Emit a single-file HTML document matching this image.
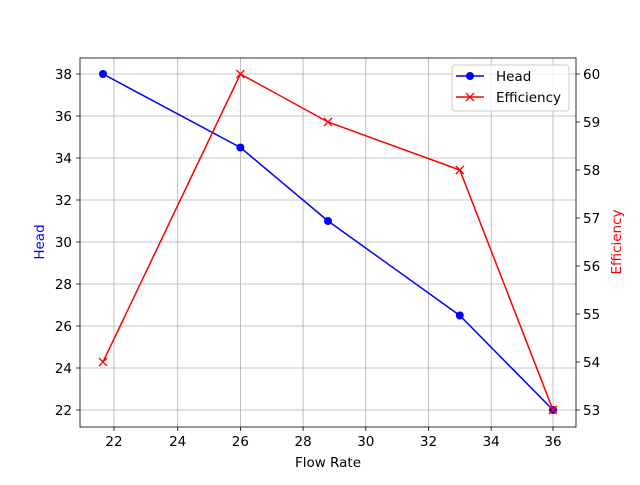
<!DOCTYPE html>
<html><head><meta charset="utf-8"><style>body{margin:0;background:#fff}</style></head><body>
<svg width="640" height="480" viewBox="0 0 640 480" xmlns="http://www.w3.org/2000/svg" font-family="DejaVu Sans, Liberation Sans, sans-serif" font-size="13.5">
<rect width="640" height="480" fill="#fff"/>
<g stroke="#b0b0b0" stroke-width="0.8">
<line x1="114" y1="58" x2="114" y2="427"/><line x1="177.7" y1="58" x2="177.7" y2="427"/>
<line x1="240.4" y1="58" x2="240.4" y2="427"/><line x1="303.1" y1="58" x2="303.1" y2="427"/>
<line x1="365.8" y1="58" x2="365.8" y2="427"/><line x1="428.5" y1="58" x2="428.5" y2="427"/>
<line x1="491.2" y1="58" x2="491.2" y2="427"/><line x1="553" y1="58" x2="553" y2="427"/>
<line x1="80" y1="74" x2="576" y2="74"/><line x1="80" y1="116" x2="576" y2="116"/>
<line x1="80" y1="158" x2="576" y2="158"/><line x1="80" y1="200" x2="576" y2="200"/>
<line x1="80" y1="242" x2="576" y2="242"/><line x1="80" y1="284" x2="576" y2="284"/>
<line x1="80" y1="326" x2="576" y2="326"/><line x1="80" y1="368" x2="576" y2="368"/>
<line x1="80" y1="410" x2="576" y2="410"/>
</g>
<polyline points="103,74 240.4,147.5 328,221 459.8,315.5 553,410" fill="none" stroke="#0000ff" stroke-width="1.5"/>
<g fill="#0000ff"><circle cx="103" cy="74" r="4"/><circle cx="240.4" cy="147.5" r="4"/><circle cx="328" cy="221" r="4"/><circle cx="459.8" cy="315.5" r="4"/><circle cx="553" cy="410" r="4"/></g>
<polyline points="103,362 240.4,74 328,122 459.8,170 553,410" fill="none" stroke="#ff0000" stroke-width="1.5"/>
<g stroke="#ff0000" stroke-width="1.3">
<path d="M99,358l8,8M107,358l-8,8"/><path d="M236.4,70l8,8M244.4,70l-8,8"/><path d="M324,118l8,8M332,118l-8,8"/><path d="M455.8,166l8,8M463.8,166l-8,8"/><path d="M549,406l8,8M557,406l-8,8"/>
</g>
<rect x="80" y="58" width="496" height="369" fill="none" stroke="#000" stroke-width="0.8"/>
<g stroke="#000" stroke-width="0.8">
<path d="M114,427v4M177.7,427v4M240.4,427v4M303.1,427v4M365.8,427v4M428.5,427v4M491.2,427v4M553,427v4"/>
<path d="M80,74h-4M80,116h-4M80,158h-4M80,200h-4M80,242h-4M80,284h-4M80,326h-4M80,368h-4M80,410h-4"/>
<path d="M576,74h4M576,122h4M576,170h4M576,218h4M576,266h4M576,314h4M576,362h4M576,410h4"/>
</g>
<g text-anchor="middle">
<text x="114" y="446">22</text><text x="177.7" y="446">24</text><text x="240.4" y="446">26</text><text x="303.1" y="446">28</text><text x="365.8" y="446">30</text><text x="428.5" y="446">32</text><text x="491.2" y="446">34</text><text x="553" y="446">36</text>
<text x="328" y="467">Flow Rate</text>
</g>
<g text-anchor="end">
<text x="72" y="79">38</text><text x="72" y="121">36</text><text x="72" y="163">34</text><text x="72" y="205">32</text><text x="72" y="247">30</text><text x="72" y="289">28</text><text x="72" y="331">26</text><text x="72" y="373">24</text><text x="72" y="415">22</text>
</g>
<g>
<text x="583" y="79">60</text><text x="583" y="127">59</text><text x="583" y="175">58</text><text x="583" y="223">57</text><text x="583" y="271">56</text><text x="583" y="319">55</text><text x="583" y="367">54</text><text x="583" y="415">53</text>
</g>
<text transform="translate(44,242) rotate(-90)" text-anchor="middle" fill="#0000ff">Head</text>
<text transform="translate(621,242) rotate(-90)" text-anchor="middle" fill="#ff0000">Efficiency</text>
<rect x="452" y="65" width="117" height="46" rx="3" fill="#fff" fill-opacity="0.8" stroke="#ccc"/>
<line x1="456" y1="76" x2="484" y2="76" stroke="#0000ff" stroke-width="1.5"/><circle cx="470" cy="76" r="4" fill="#0000ff"/>
<text x="496" y="81">Head</text>
<line x1="456" y1="97" x2="484" y2="97" stroke="#ff0000" stroke-width="1.5"/>
<path d="M466,93l8,8M474,93l-8,8" stroke="#ff0000" stroke-width="1.3"/>
<text x="496" y="102">Efficiency</text>
</svg>
</body></html>
